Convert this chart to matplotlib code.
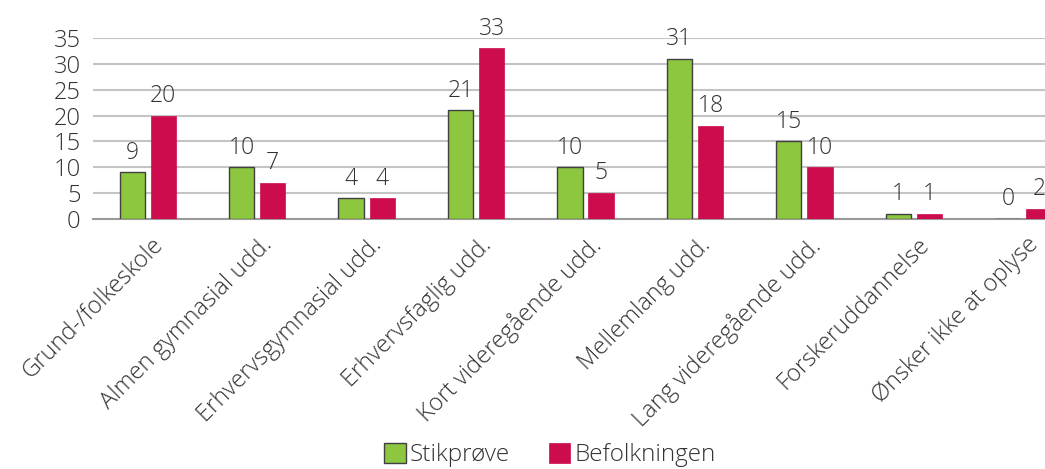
import matplotlib.pyplot as plt
import numpy as np

categories = ["Grund-/folkeskole", "Almen gymnasial udd.", "Erhvervsgymnasial udd.",
              "Erhvervsfaglig udd.", "Kort videregående udd.", "Mellemlang udd.",
              "Lang videregående udd.", "Forskeruddannelse", "Ønsker ikke at oplyse"]
stikproeve = [9, 10, 4, 21, 10, 31, 15, 1, 0]
befolkningen = [20, 7, 4, 33, 5, 18, 10, 1, 2]
yticks = [0, 5, 10, 15, 20, 25, 30, 35]

plt.rcParams['font.family'] = ['Open Sans', 'DejaVu Sans']
plt.rcParams['font.weight'] = 'light'
green = "#8dc63f"
red = "#cc0c4c"
textcol = "#333333"

fig = plt.figure(figsize=(10.45, 4.69), dpi=100)
ax = fig.add_axes([0.089, 0.533, 0.9426, 0.386])

x = np.arange(len(categories))
w = 0.23
off = 0.142
b1 = ax.bar(x - off, stikproeve, w, color=green, edgecolor="#404040", linewidth=1.0, label="Stikprøve", zorder=3)
b2 = ax.bar(x + off, befolkningen, w, color=red, edgecolor=red, linewidth=0.5, label="Befolkningen", zorder=3)

# value labels above each bar
for bars in (b1, b2):
    for bar in bars:
        ax.text(bar.get_x() + bar.get_width() / 2, bar.get_height() + 1.5, f"{bar.get_height():.0f}",
                ha='center', va='bottom', fontsize=16.5, color=textcol, clip_on=False)

ax.set_xlim(-0.5, len(categories) - 0.5)
ax.set_ylim(0, 35)
ax.set_yticks(yticks)
ax.tick_params(axis='y', length=0, pad=9, labelsize=17, labelcolor=textcol)
ax.tick_params(axis='x', length=0)
ax.set_xticks(x)
ax.set_xticklabels([])
for xi, lab in zip(x, categories):
    ax.text(xi + 0.03, -2.7, lab, rotation=45, ha='right', va='top', rotation_mode='anchor',
            fontsize=17, color=textcol, transform=ax.transData, clip_on=False)

ax.grid(axis='y', color="#c4c4c4", linewidth=1.5, zorder=0)
for s in ["top", "right", "left"]:
    ax.spines[s].set_visible(False)
ax.spines["bottom"].set_color("#9a9a9a")
ax.spines["bottom"].set_linewidth(1.5)

fig.legend(handles=[b1, b2], loc='center', bbox_to_anchor=(0.526, 0.03), ncol=2, frameon=False,
           fontsize=17.5, handlelength=0.9, handleheight=0.9, handletextpad=0.15, columnspacing=1.6,
           labelcolor=textcol, borderpad=0)

fig.savefig("out.png", dpi=100)
